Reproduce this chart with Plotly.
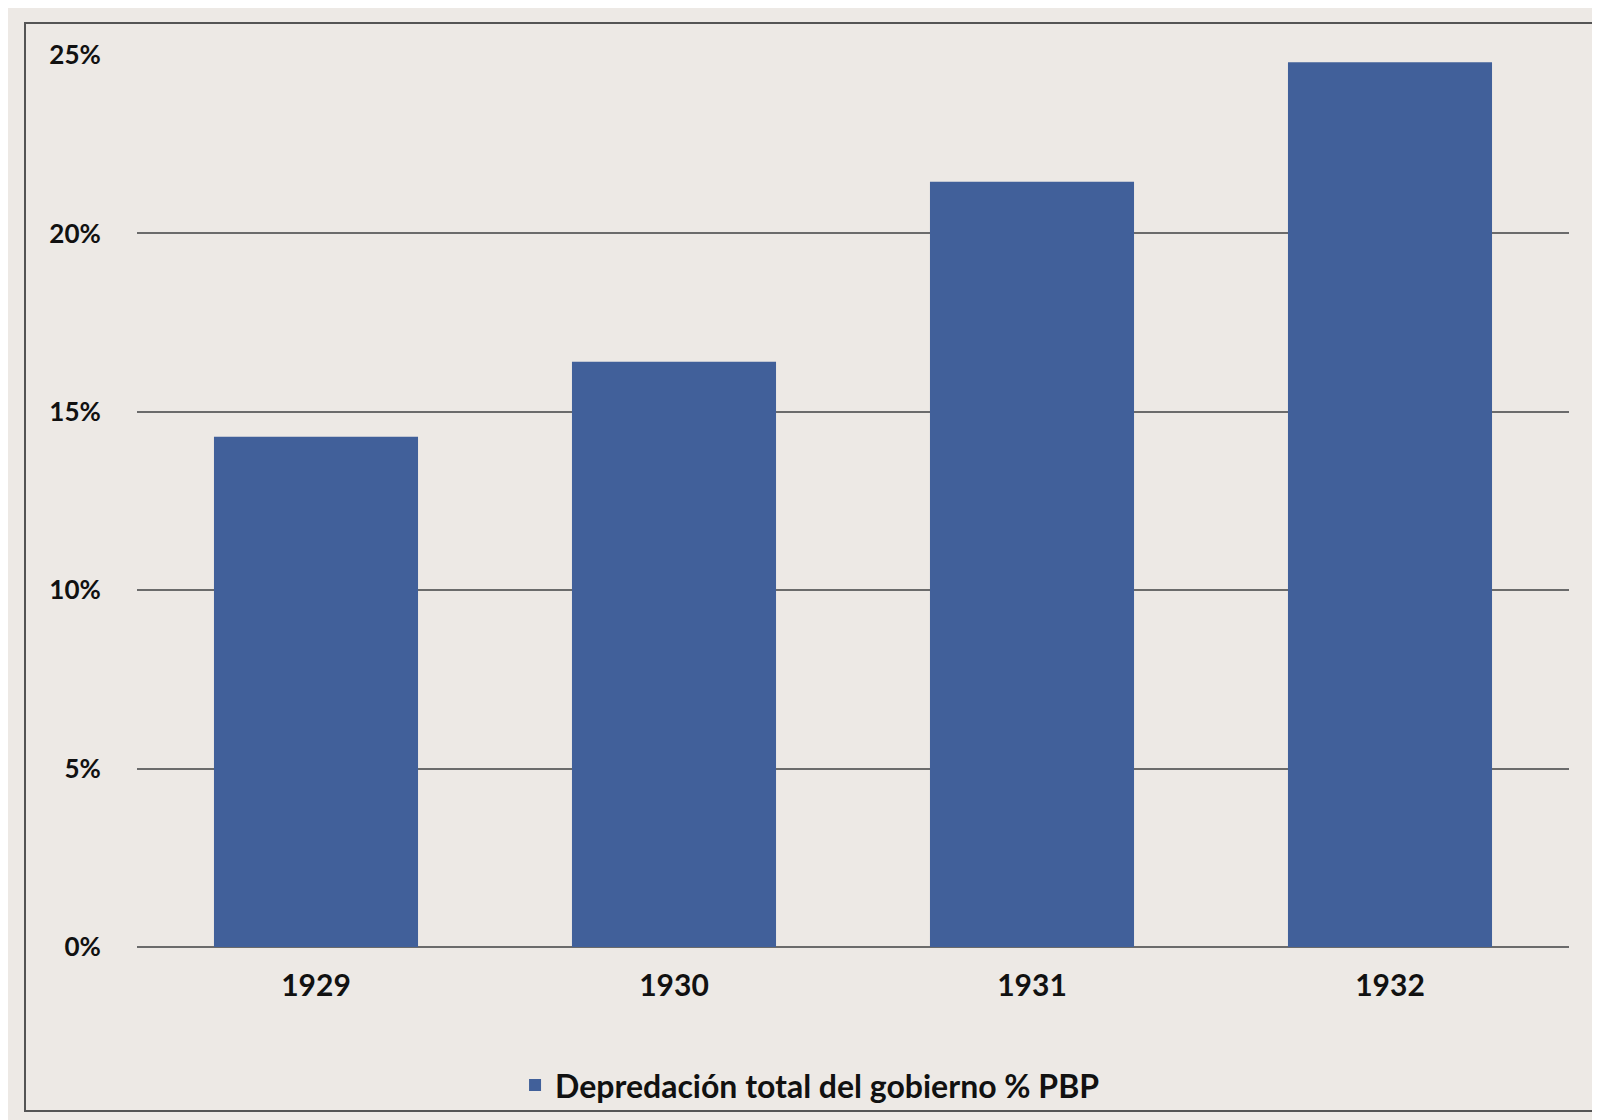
import plotly.graph_objects as go

years = ["1929", "1930", "1931", "1932"]
values = [14.3, 16.4, 21.45, 24.8]
series_name = "Depredación total del gobierno % PBP"
yticks = [0, 5, 10, 15, 20, 25]
yticklabels = ["0%", "5%", "10%", "15%", "20%", "25%"]

W, H = 1600, 1120
L, R, T, B = 129, 39, 47, 181

fig = go.Figure(go.Bar(x=years, y=values, name=series_name,
                       marker=dict(color="#41609a", line=dict(width=0)),
                       width=0.57))
pw, ph = W - L - R, H - T - B
fig.update_layout(
    width=W, height=H, margin=dict(l=L, r=R, t=T, b=B),
    paper_bgcolor="#ede9e5", plot_bgcolor="#ede9e5",
    font=dict(family="Lato", size=28, color="#111"),
    showlegend=True,
    legend=dict(orientation="h", x=0.47, xanchor="center", y=-0.155, yanchor="middle",
                font=dict(size=32, family="Lato", weight="bold"), bgcolor="rgba(0,0,0,0)"),
    bargap=0.43,
    shapes=[dict(type="rect", xref="paper", yref="paper",
                 x0=(17 - L) / pw, x1=(1587 - L) / pw,
                 y0=(H - B - 1103) / ph, y1=(H - B - 15) / ph,
                 line=dict(color="#555", width=2), fillcolor="rgba(0,0,0,0)", layer="below")],
)
fig.update_xaxes(showgrid=False, showline=False, ticks="",
                 tickfont=dict(size=30, family="Lato", weight="bold"), ticklabelstandoff=18)
fig.update_yaxes(range=[0, 25], tickvals=yticks, ticktext=yticklabels,
                 showgrid=True, gridcolor="#6b6b6b", gridwidth=1.5, zeroline=True,
                 zerolinecolor="#6b6b6b", zerolinewidth=1.5,
                 ticks="outside", ticklen=30, tickcolor="rgba(0,0,0,0)",
                 tickfont=dict(size=26, family="Lato", weight="bold"))
fig.write_html("out.html")
